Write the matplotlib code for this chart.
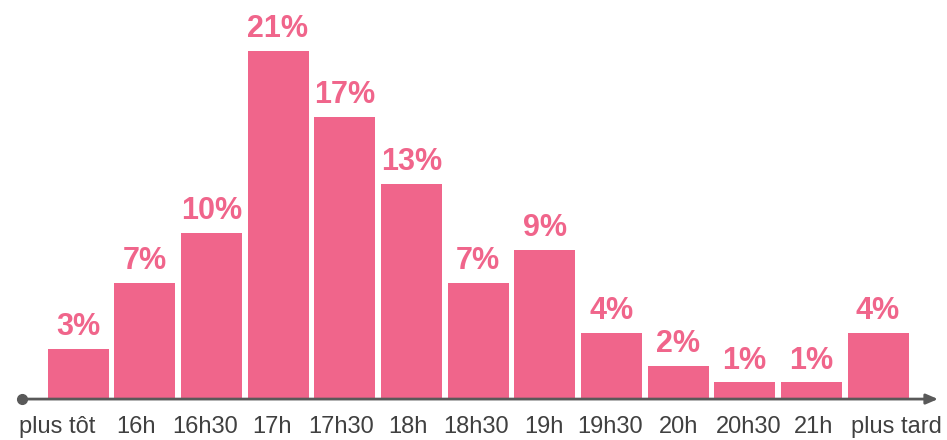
import matplotlib.pyplot as plt

# heure de départ -> part des réponses (%)
categories = ["plus tôt", "16h", "16h30", "17h", "17h30", "18h", "18h30",
              "19h", "19h30", "20h", "20h30", "21h", "plus tard"]
valeurs = [3, 7, 10, 21, 17, 13, 7, 9, 4, 2, 1, 1, 4]

# décalage horizontal des libellés (pixels) par rapport au centre des barres
decalages = [-20.5, -9, -6.5, -5.5, -4, -3.5, -1.5, -0.5, -1, 0.5, 4.5, 2.5, 18.5]

ROSE = "#F0658B"
GRIS = "#595959"

plt.rcParams['font.family'] = ['Liberation Sans', 'DejaVu Sans']

fig = plt.figure(figsize=(9.47, 4.40), dpi=100)
ax = fig.add_axes([0, 0, 1, 1])
ax.axis('off')
ax.set_xlim(-1.17, 13.035)
ax.set_ylim(-2.47, 24.08)

x = list(range(len(categories)))
ax.bar(x, valeurs, width=0.915, color=ROSE, zorder=2)

# étiquettes de valeur
for xi, v in zip(x, valeurs):
    ax.annotate("{}%".format(v), (xi, v), xytext=(0, 10), textcoords='offset points',
                ha='center', va='baseline', fontsize=22, fontweight='bold', color=ROSE)

# libellés de l'axe
for xi, c, d in zip(x, categories, decalages):
    ax.annotate(c, (xi, -2.05), xytext=(d * 0.72, 0), textcoords='offset points',
                ha='center', va='baseline', fontsize=17, color="#404040")

# axe horizontal : point à gauche, flèche à droite
ax.annotate("", xy=(12.9, 0), xytext=(-0.84, 0),
            arrowprops=dict(arrowstyle='-|>,head_length=0.7,head_width=0.3',
                            color=GRIS, lw=2, shrinkA=0, shrinkB=0), zorder=3)
ax.plot([-0.84], [0], 'o', color=GRIS, markersize=7, zorder=3)

fig.savefig("out.png", dpi=100)
